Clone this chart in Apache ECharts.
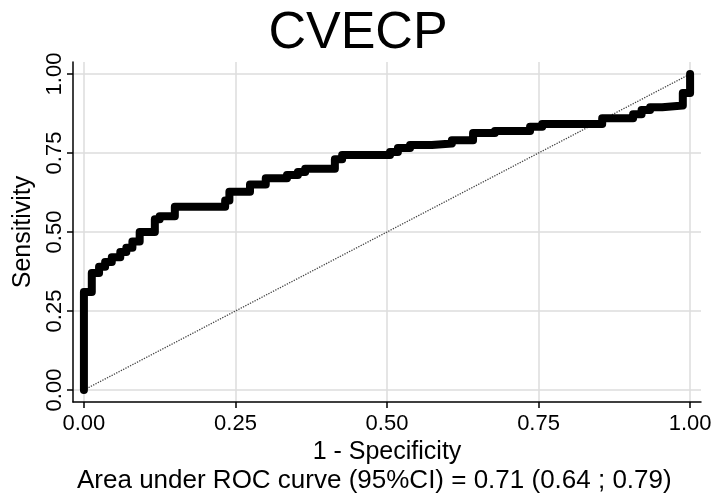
<!DOCTYPE html>
<html>
<head>
<meta charset="utf-8">
<script src="https://cdn.jsdelivr.net/npm/echarts@6/dist/echarts.min.js"></script>
<style>
html,body{margin:0;padding:0;background:#fff;}
#chart{width:716px;height:502px;}
</style>
</head>
<body>
<div id="chart"></div>
<script>
// ROC curve vertices (1 - specificity, sensitivity)
const fpr = [0, 0, 0.013, 0.025, 0.035, 0.046, 0.06, 0.07, 0.08, 0.092, 0.117, 0.125, 0.15, 0.233, 0.24, 0.274, 0.30, 0.335, 0.353, 0.365, 0.414, 0.426, 0.505, 0.518, 0.538, 0.574, 0.607, 0.642, 0.678, 0.736, 0.756, 0.855, 0.906, 0.92, 0.934, 0.954, 0.988, 1.0];
const tpr = [0, 0.31, 0.37, 0.39, 0.405, 0.42, 0.437, 0.45, 0.47, 0.50, 0.54, 0.55, 0.58, 0.60, 0.627, 0.65, 0.67, 0.68, 0.69, 0.70, 0.73, 0.744, 0.753, 0.766, 0.775, 0.78, 0.79, 0.813, 0.82, 0.833, 0.842, 0.86, 0.873, 0.886, 0.895, 0.90, 0.94, 1.0];
const refX = [0, 1];
const refY = [0, 1];
const tickValues = [0, 0.25, 0.5, 0.75, 1];
const titleText = 'CVECP';
const xName = '1 - Specificity';
const yName = 'Sensitivity';
const note = 'Area under ROC curve (95%CI) = 0.71 (0.64 ; 0.79)';

const FONT = 'Liberation Sans, Arial, sans-serif';
const chart = echarts.init(document.getElementById('chart'), null, {renderer: 'canvas'});

const axisCommon = {
  type: 'value',
  nameLocation: 'middle',
  nameTextStyle: {fontFamily: FONT, fontSize: 25, color: '#000'},
  axisLine: {show: true, onZero: false, lineStyle: {color: '#000', width: 1.5}},
  axisTick: {show: true, length: 6, lineStyle: {color: '#000', width: 1.5}, customValues: tickValues},
  axisLabel: {fontFamily: FONT, fontSize: 22, color: '#000', customValues: tickValues,
              formatter: v => v.toFixed(2)},
  splitLine: {show: true, lineStyle: {color: '#dcdcdc', width: 1.5}}
};

chart.setOption({
  backgroundColor: '#fff',
  animation: false,
  title: {
    text: titleText, left: 'center', top: 3,
    textStyle: {fontFamily: FONT, fontSize: 52, fontWeight: 'normal', color: '#000'}
  },
  grid: {left: 73, right: 15, top: 62, bottom: 100, containLabel: false},
  xAxis: Object.assign({}, axisCommon, {
    min: -0.018, max: 1.018, name: xName, nameGap: 28,
    axisLabel: Object.assign({}, axisCommon.axisLabel, {margin: 11})
  }),
  yAxis: Object.assign({}, axisCommon, {
    min: -0.038, max: 1.038, name: yName, nameGap: 36,
    axisLabel: Object.assign({}, axisCommon.axisLabel, {margin: 7, rotate: 90})
  }),
  graphic: [{
    type: 'text', left: 77, top: 468,
    style: {text: note, font: '26px ' + FONT, fill: '#000'}
  }],
  series: [
    {
      type: 'line', data: refX.map((x, i) => [x, refY[i]]),
      symbol: 'none', silent: true, z: 2,
      lineStyle: {color: '#444', width: 1.3, type: 'dotted'}
    },
    {
      type: 'line', data: fpr.map((x, i) => [x, tpr[i]]),
      step: 'end', symbol: 'none', z: 3,
      lineStyle: {color: '#000', width: 8, cap: 'round', join: 'round'}
    }
  ]
});
</script>
</body>
</html>
